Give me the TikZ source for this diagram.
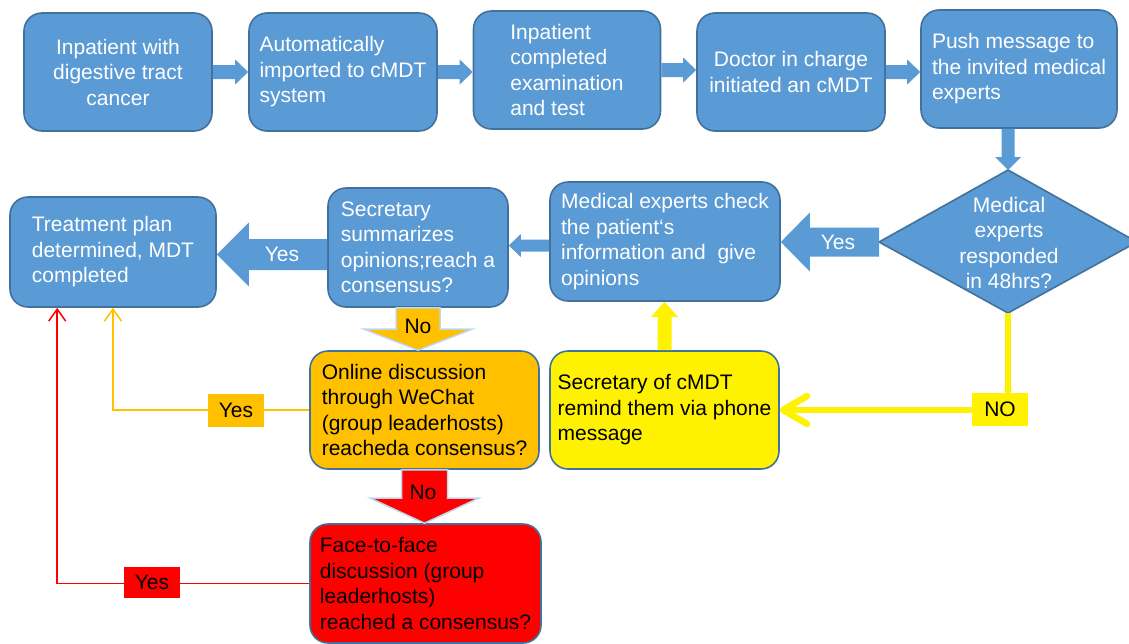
\documentclass[tikz,border=0pt]{standalone}
\usepackage{fontspec}
\setmainfont{Liberation Sans}
\usetikzlibrary{calc,arrows.meta}
\definecolor{boxblue}{HTML}{5B9BD5}
\definecolor{boxedge}{HTML}{41719C}
\definecolor{orng}{HTML}{FFC000}
\definecolor{lblue}{HTML}{BDD7EE}
\tikzset{
  base/.style={font=\fontsize{21}{25.5}\selectfont, inner sep=0pt, rounded corners=18pt, line width=1.6pt, draw=boxedge},
  bluebox/.style={base, fill=boxblue, text=white},
  orangebox/.style={base, fill=orng, text=black},
  yellowbox/.style={base, fill=yellow, text=black},
  redbox/.style={base, fill=red, text=black},
  blockar/.style={fill=boxblue},
  noorange/.style={fill=orng, draw=lblue, line width=1.5pt},
  nored/.style={fill=red, draw=lblue, line width=1.5pt},
  yellowar/.style={fill=yellow},
  lbl/.style={font=\fontsize{21}{25.5}\selectfont, inner sep=0pt},
  tag/.style={lbl, minimum width=56pt, minimum height=33pt},
  yline/.style={draw=yellow, line width=6.5pt, -{Straight Barb[length=24pt,width=28pt,round]}},
  oline/.style={draw=orng, line width=1.5pt, -{Straight Barb[length=12pt,width=17pt]}},
  rline/.style={draw=red, line width=1.5pt, -{Straight Barb[length=12pt,width=17pt]}},
}
% block arrows: [style]{from}{to}{shaft half}{head half}{head length}
\newcommand\BArR[6][]{\path[#1] let \p1=(#2), \p2=(#3) in (\x1,\y1+#4) -- (\x2-#6,\y1+#4) -- (\x2-#6,\y1+#5) -- (\x2,\y1) -- (\x2-#6,\y1-#5) -- (\x2-#6,\y1-#4) -- (\x1,\y1-#4) -- cycle;}
\newcommand\BArL[6][]{\path[#1] let \p1=(#2), \p2=(#3) in (\x1,\y1+#4) -- (\x2+#6,\y1+#4) -- (\x2+#6,\y1+#5) -- (\x2,\y1) -- (\x2+#6,\y1-#5) -- (\x2+#6,\y1-#4) -- (\x1,\y1-#4) -- cycle;}
\newcommand\BArD[6][]{\path[#1] let \p1=(#2), \p2=(#3) in (\x1+#4,\y1) -- (\x1+#4,\y2+#6) -- (\x1+#5,\y2+#6) -- (\x1,\y2) -- (\x1-#5,\y2+#6) -- (\x1-#4,\y2+#6) -- (\x1-#4,\y1) -- cycle;}
\newcommand\BArU[6][]{\path[#1] let \p1=(#2), \p2=(#3) in (\x1+#4,\y1) -- (\x1+#4,\y2-#6) -- (\x1+#5,\y2-#6) -- (\x1,\y2) -- (\x1-#5,\y2-#6) -- (\x1-#4,\y2-#6) -- (\x1-#4,\y1) -- cycle;}
\begin{document}
\begin{tikzpicture}[x=1pt,y=-1pt]
\useasboundingbox (0,0) rectangle (1129,643);
% top row
\node[bluebox, align=center, minimum width=188pt, minimum height=118pt] (B1) at (118,72) {Inpatient with\\digestive tract\\cancer};
\node[bluebox, align=left, minimum width=188pt, minimum height=118pt] (B2) at (343,72) {Automatically\\imported to cMDT\\system};
\node[bluebox, align=left, minimum width=187pt, minimum height=118pt] (B3) at (567,70) {Inpatient\\completed\\examination\\and test};
\node[bluebox, align=center, minimum width=188pt, minimum height=118pt] (B4) at (791,72) {Doctor in charge\\initiated an cMDT};
\node[bluebox, align=left, minimum width=196pt, minimum height=118pt] (B5) at (1019,69) {Push message to\\the invited medical\\experts};
% diamond
\coordinate (Dl) at (879,242);
\coordinate (Dt) at (1008,170);
\coordinate (Dr) at (1137,242);
\coordinate (Db) at (1008,313);
\path[fill=boxblue, draw=boxedge, line width=1.6pt] (Dl) -- (Dt) -- (Dr) -- (Db) -- cycle;
\node[lbl, text=white, align=center] (D) at (1009,243) {Medical\\experts\\responded\\in 48hrs?};
% second row
\node[bluebox, align=left, minimum width=230pt, minimum height=119pt] (M) at (665,241.5) {Medical experts check\\the patient‘s\\information and\ \ give\\opinions};
\node[bluebox, align=left, minimum width=180pt, minimum height=119pt] (S) at (418,247.5) {Secretary\\summarizes\\opinions;reach a\\consensus?};
\node[bluebox, align=left, minimum width=206pt, minimum height=110pt] (T) at (113,252) {Treatment plan\\determined, MDT\\completed};
% lower boxes
\node[orangebox, align=left, minimum width=229pt, minimum height=118pt] (O) at (424.5,410) {Online discussion\\through WeChat\\(group leaderhosts)\\reacheda consensus?};
\node[yellowbox, align=left, minimum width=229pt, minimum height=118pt] (Y) at (664.5,410) {Secretary of cMDT\\remind them via phone\\message};
\node[redbox, align=left, minimum width=231pt, minimum height=119pt] (F) at (425.5,583.5) {Face-to-face\\discussion (group\\leaderhosts)\\reached a consensus?};
% top arrows
\BArR[blockar]{B1.east}{B2.west}{7pt}{12.5pt}{13pt}
\BArR[blockar]{B2.east}{B3.west}{7pt}{12.5pt}{13pt}
\BArR[blockar]{B3.east}{B4.west}{7pt}{12.5pt}{13pt}
\BArR[blockar]{B4.east}{B5.west}{7pt}{12.5pt}{13pt}
\BArD[blockar]{Dt |- B5.south}{Dt}{6.5pt}{13pt}{13pt}
% yes arrows
\BArL[blockar]{Dl}{M.east}{14.5pt}{29.5pt}{29pt}
\node[lbl, text=white] (yesD) at (838,242) {Yes};
\coordinate (Mw) at ($(M.west)+(0,4)$);
\BArL[blockar]{Mw}{S.east}{6pt}{11.5pt}{12pt}
\coordinate (Sw) at ($(S.west)+(0,7)$);
\BArL[blockar]{Sw}{T.east}{15.5pt}{32pt}{32pt}
\node[lbl, text=white] (yesS) at (282,254) {Yes};
% no arrows
\BArD[noorange]{S.south}{S.south |- O.north}{22pt}{54pt}{21pt}
\node[lbl] (noS) at (418,326) {No};
\BArD[nored]{O.south}{F.north}{23pt}{54pt}{25pt}
\node[lbl] (noO) at (423,492) {No};
\BArU[yellowar]{Y.north}{M.south}{7pt}{13.5pt}{15pt}
% line connectors
\draw[yline] (Db) |- (Y.east);
\node[tag, fill=yellow] (noY) at (1000,409) {NO};
\draw[oline] (O.west) -| (T.south);
\node[tag, fill=orng] (yesO) at (236,410) {Yes};
\coordinate (Tr) at ($(T.south west)+(48,0)$);
\draw[rline] (F.west) -| (Tr);
\node[tag, fill=red, minimum height=31pt] (yesF) at (152,582) {Yes};
\end{tikzpicture}
\end{document}
